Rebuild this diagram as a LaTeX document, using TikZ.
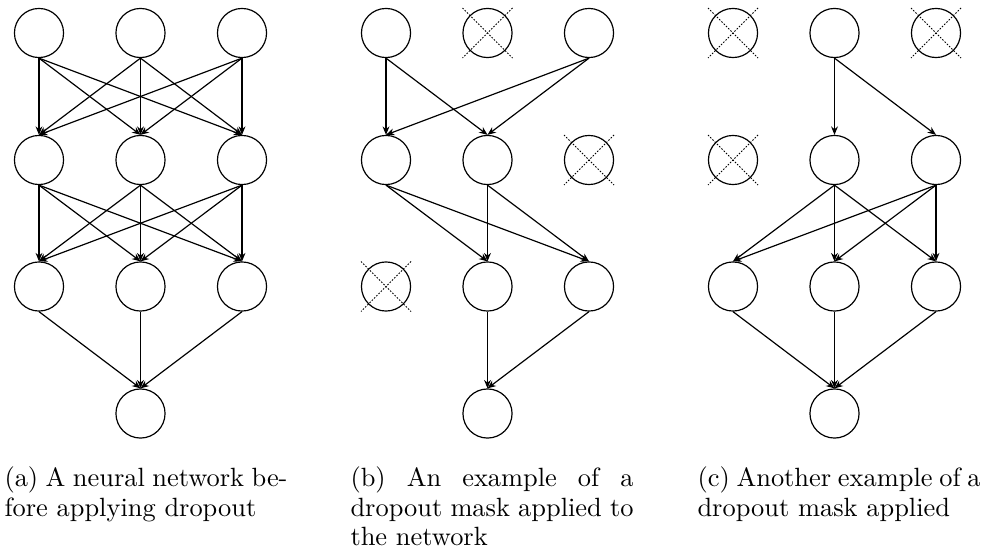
\documentclass[tikz,border=0pt]{standalone}
\usetikzlibrary{arrows.meta}
\begin{document}
\begin{tikzpicture}[x=0.3788pt,y=-0.3788pt,
  neuron/.style={circle,draw,line width=0.45pt,minimum size=18.6pt,inner sep=0pt},
  conn/.style={-{Stealth[length=3.2pt,width=2.6pt]},line width=0.45pt},
  crossline/.style={dash pattern=on 0.6pt off 0.6pt,line width=0.35pt},
  captxt/.style={anchor=north west,inner sep=0pt,text width=107.2pt,align=justify,font=\fontsize{10}{11.3}\selectfont}]
\useasboundingbox (0,0) rectangle (986,550);
% neurons
\foreach \p/\px in {a/0,b/347,c/694}{
  \foreach \r/\ry in {1/33,2/160,3/286.5}{
    \foreach \c in {1,2,3}{
      \node[neuron] (\p\r\c) at ({39+\px+101.5*(\c-1)},\ry) {};
    }
  }
  \node[neuron] (\p o) at ({140.5+\px},413.5) {};
}
% dropped neurons
\foreach \n in {b12,b23,b31,c11,c13,c21}{
  \draw[crossline] ([shift={(-25,-25)}]\n.center) -- ([shift={(25,25)}]\n.center);
  \draw[crossline] ([shift={(25,-25)}]\n.center) -- ([shift={(-25,25)}]\n.center);
}
% (a) full network
\foreach \i in {1,2,3}{
  \foreach \j in {1,2,3}{
    \draw[conn] (a1\i.south) -- (a2\j.north);
    \draw[conn] (a2\i.south) -- (a3\j.north);
  }
  \draw[conn] (a3\i.south) -- (ao.north);
}
% (b)
\foreach \s/\t in {b11/b21,b11/b22,b13/b21,b13/b22,b21/b32,b21/b33,b22/b32,b22/b33,b32/bo,b33/bo}{
  \draw[conn] (\s.south) -- (\t.north);
}
% (c)
\foreach \s/\t in {c12/c22,c12/c23,c22/c31,c22/c32,c22/c33,c23/c31,c23/c32,c23/c33,c31/co,c32/co,c33/co}{
  \draw[conn] (\s.south) -- (\t.north);
}
% captions
\node[captxt] (capa) at (4,466) {(a) A neural network be\-fore applying dropout};
\node[captxt] (capb) at (350,466) {(b) An example of a dropout mask applied to the network};
\node[captxt] (capc) at (697,466) {(c) Another example of a dropout mask applied};
\end{tikzpicture}
\end{document}
